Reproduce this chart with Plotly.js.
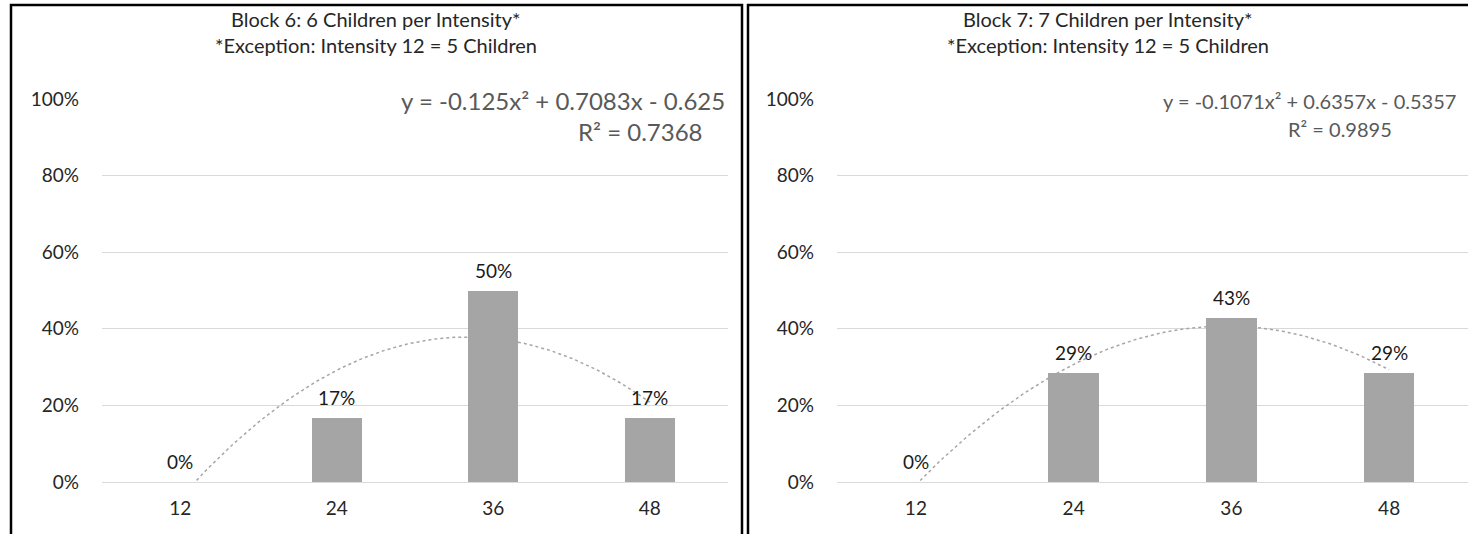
<!DOCTYPE html>
<html>
<head>
<meta charset="utf-8">
<script src="https://cdn.plot.ly/plotly-3.0.1.min.js"></script>
<style>
  html, body { margin: 0; padding: 0; background: #ffffff; }
  #chart { width: 1468px; height: 534px; }
</style>
</head>
<body>
<div id="chart"></div>
<script>
// ---- data ----
const categories = ['12', '24', '36', '48'];
const block6Values = [0, 0.1667, 0.5, 0.1667];
const block7Values = [0, 0.2857, 0.4286, 0.2857];
const block6Title = ['Block 6: 6 Children per Intensity*', '*Exception: Intensity 12 = 5 Children'];
const block7Title = ['Block 7: 7 Children per Intensity*', '*Exception: Intensity 12 = 5 Children'];
const block6Equation = ['y = -0.125x² + 0.7083x - 0.625', 'R² = 0.7368'];
const block7Equation = ['y = -0.1071x² + 0.6357x - 0.5357', 'R² = 0.9895'];
const yTickValues = [0, 0.2, 0.4, 0.6, 0.8, 1.0];

// ---- helpers ----
const W = 1468, H = 534;
const px = v => v / W;
const py = v => 1 - v / H;
const FONT = 'Lato, "Open Sans", sans-serif';

// least-squares quadratic fit (Excel polynomial trendline, order 2) on category index 1..n
function quadFit(ys) {
  const xs = ys.map((_, i) => i + 1);
  let s = [0, 0, 0, 0, 0], t = [0, 0, 0];
  xs.forEach((x, i) => {
    for (let k = 0; k <= 4; k++) s[k] += Math.pow(x, k);
    for (let k = 0; k <= 2; k++) t[k] += Math.pow(x, k) * ys[i];
  });
  const M = [[s[0], s[1], s[2], t[0]], [s[1], s[2], s[3], t[1]], [s[2], s[3], s[4], t[2]]];
  for (let i = 0; i < 3; i++) {
    let p = i;
    for (let r = i + 1; r < 3; r++) if (Math.abs(M[r][i]) > Math.abs(M[p][i])) p = r;
    [M[i], M[p]] = [M[p], M[i]];
    for (let r = 0; r < 3; r++) {
      if (r === i) continue;
      const f = M[r][i] / M[i][i];
      for (let c = i; c < 4; c++) M[r][c] -= f * M[i][c];
    }
  }
  const c = M[0][3] / M[0][0], b = M[1][3] / M[1][1], a = M[2][3] / M[2][2];
  return { a, b, c };
}
function trendPoints(ys) {
  const f = quadFit(ys);
  const xs = [], out = [];
  const n = ys.length;
  for (let i = 0; i <= 120; i++) {
    const x = 1 + (n - 1) * i / 120;
    xs.push(x);
    out.push(f.a * x * x + f.b * x + f.c);
  }
  return { xs, ys: out };
}

const idx = categories.map((_, i) => i + 1);
const t6 = trendPoints(block6Values);
const t7 = trendPoints(block7Values);

const barStyle = {
  type: 'bar',
  marker: { color: '#a5a5a5' },
  width: 0.32,
  hoverinfo: 'skip',
  showlegend: false
};
const lineStyle = {
  type: 'scatter',
  mode: 'lines',
  line: { color: '#a6a6a6', width: 1.5, dash: 'dot' },
  hoverinfo: 'skip',
  showlegend: false
};

const data = [
  Object.assign({}, barStyle, { x: idx, y: block6Values, xaxis: 'x', yaxis: 'y' }),
  Object.assign({}, lineStyle, { x: t6.xs, y: t6.ys, xaxis: 'x', yaxis: 'y' }),
  Object.assign({}, barStyle, { x: idx, y: block7Values, xaxis: 'x2', yaxis: 'y2' }),
  Object.assign({}, lineStyle, { x: t7.xs, y: t7.ys, xaxis: 'x2', yaxis: 'y2' })
];

function xAxis(domain) {
  return {
    domain: domain,
    range: [0.5, categories.length + 0.5],
    tickmode: 'array',
    tickvals: idx,
    ticktext: categories,
    showgrid: false,
    zeroline: false,
    showline: false,
    ticks: '',
    ticklabelstandoff: 13,
    tickfont: { family: FONT, size: 19, color: '#262626' },
    fixedrange: true
  };
}
function yAxis(domain, anchor) {
  return {
    domain: domain,
    anchor: anchor,
    range: [0, 1],
    tickmode: 'array',
    tickvals: yTickValues,
    tickformat: '.0%',
    showgrid: true,
    gridcolor: '#d9d9d9',
    gridwidth: 1,
    zeroline: true,
    zerolinecolor: '#d9d9d9',
    zerolinewidth: 1,
    showline: false,
    ticks: '',
    ticklabelstandoff: 22,
    tickfont: { family: FONT, size: 19, color: '#262626' },
    fixedrange: true
  };
}

const yDomain = [py(482), py(99)];

// data labels drawn from the values through the axes
function dataLabels(values, xr, yr) {
  return values.map((v, i) => ({
    xref: xr, yref: yr, x: idx[i], y: v,
    text: Math.round(v * 100) + '%',
    showarrow: false, xanchor: 'center', yanchor: 'bottom', yshift: 7,
    font: { family: FONT, size: 19, color: '#1a1a1a' }
  }));
}

const titleFont = { family: FONT, size: 20, color: '#262626' };
const textAnnotations = [
  { text: block6Title[0], x: px(376), y: py(19), font: titleFont },
  { text: block6Title[1], x: px(376), y: py(45), font: titleFont },
  { text: block7Title[0], x: px(1108), y: py(19), font: titleFont },
  { text: block7Title[1], x: px(1108), y: py(45), font: titleFont },
  { text: block6Equation[0], x: px(727), y: py(100), xanchor: 'right',
    font: { family: FONT, size: 24, color: '#595959' } },
  { text: block6Equation[1], x: px(640), y: py(131),
    font: { family: FONT, size: 24, color: '#595959' } },
  { text: block7Equation[0], x: px(1458), y: py(101), xanchor: 'right',
    font: { family: FONT, size: 20, color: '#595959' } },
  { text: block7Equation[1], x: px(1340), y: py(129),
    font: { family: FONT, size: 20, color: '#595959' } }
].map(a => Object.assign({ xref: 'paper', yref: 'paper', showarrow: false,
  xanchor: a.xanchor || 'center', yanchor: 'middle' }, a));

const annotations = textAnnotations
  .concat(dataLabels(block6Values, 'x', 'y'))
  .concat(dataLabels(block7Values, 'x2', 'y2'));

const shapes = [
  { type: 'rect', xref: 'paper', yref: 'paper', x0: px(11), x1: px(742), y0: py(560), y1: py(5),
    line: { color: '#000000', width: 2.5 }, fillcolor: 'rgba(0,0,0,0)', layer: 'above' },
  { type: 'rect', xref: 'paper', yref: 'paper', x0: px(748), x1: px(1479), y0: py(560), y1: py(5),
    line: { color: '#000000', width: 2.5 }, fillcolor: 'rgba(0,0,0,0)', layer: 'above' }
];

const layout = {
  width: W,
  height: H,
  margin: { l: 0, r: 0, t: 0, b: 0, pad: 0 },
  paper_bgcolor: '#ffffff',
  plot_bgcolor: '#ffffff',
  showlegend: false,
  bargap: 0,
  xaxis: xAxis([px(102), px(728)]),
  yaxis: yAxis(yDomain, 'x'),
  xaxis2: xAxis([px(837), px(1468)]),
  yaxis2: yAxis(yDomain, 'x2'),
  annotations: annotations,
  shapes: shapes
};

Plotly.newPlot('chart', data, layout, { staticPlot: true, displayModeBar: false });
</script>
</body>
</html>
